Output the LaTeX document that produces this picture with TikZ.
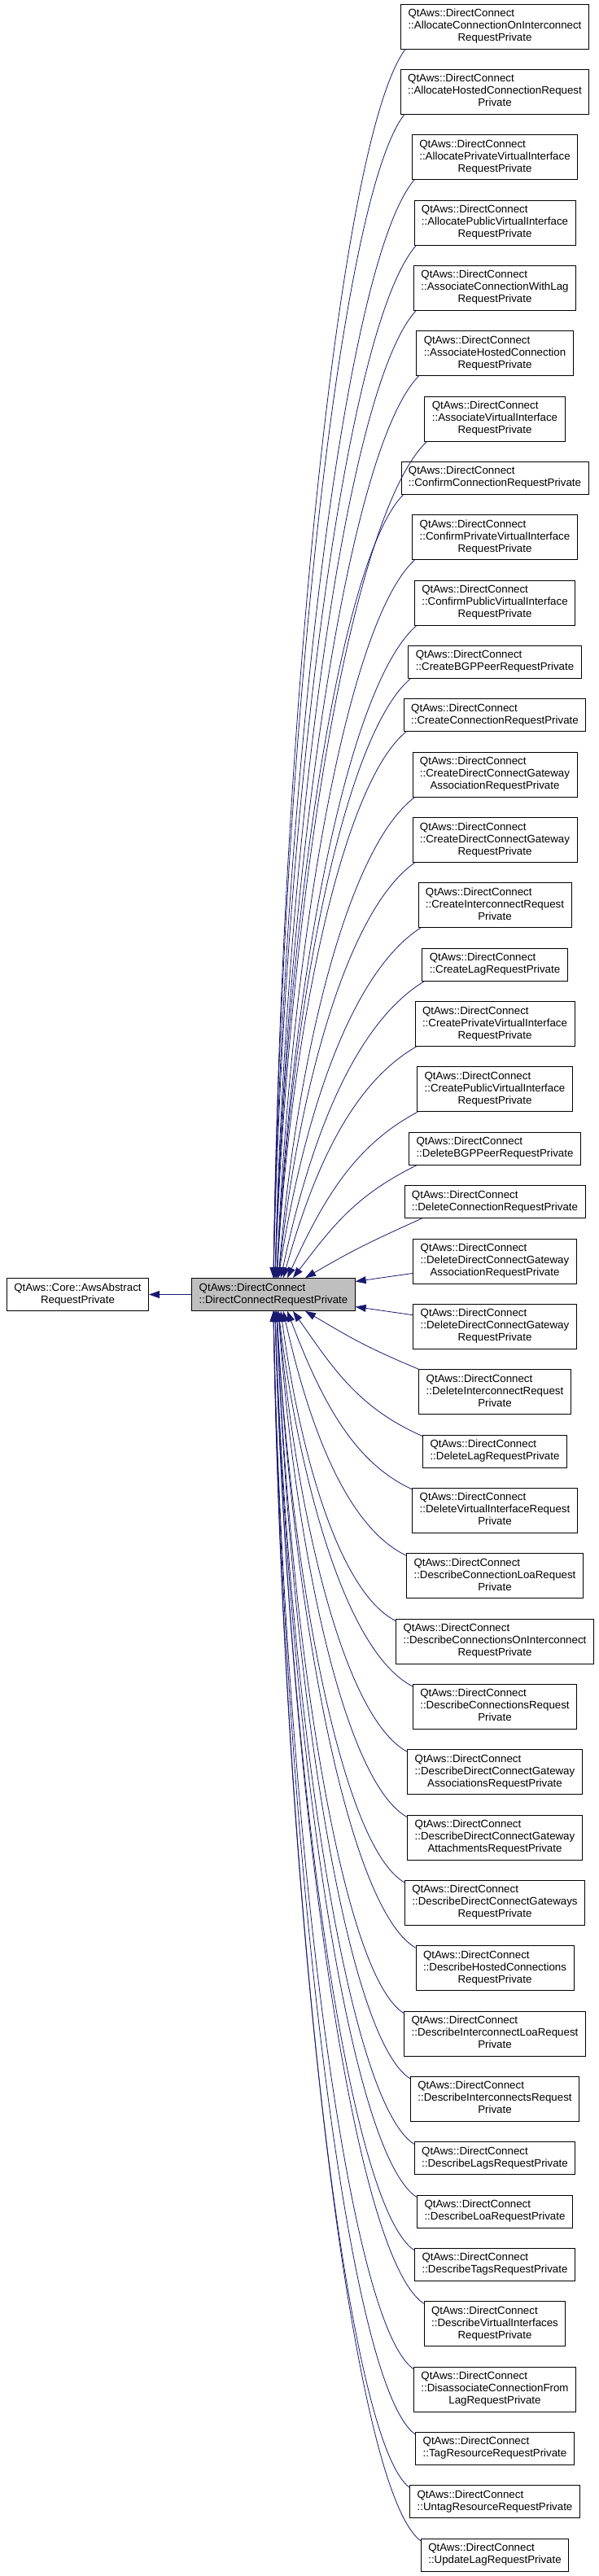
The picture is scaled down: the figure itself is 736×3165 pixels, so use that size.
\documentclass[tikz,border=0pt]{standalone}
\usepackage{fontspec}
\setmainfont{Liberation Sans}
\usetikzlibrary{arrows.meta,calc}
\definecolor{edgecol}{HTML}{191970}
\definecolor{pfill}{HTML}{BFBFBF}
\newcommand\labiii[3]{\begin{tabular}{@{}l@{}}#1\\#2\\\multicolumn{1}{@{}c@{}}{#3}\end{tabular}}
\newcommand\labii[2]{\begin{tabular}{@{}l@{}}#1\\\multicolumn{1}{@{}c@{}}{#2}\end{tabular}}
\newcommand\upedge[3]{\draw[inh] let \p1=([xshift=#2pt]#1.south west), \p2=([xshift=#3pt]p.north) in (\p1) .. controls ({\x1-0.5*(\x1-\x2)},{\y1-0.2*(\x1-\x2)-0.05*(\y1-\y2)}) and ({\x2+0.6*(\x1-\x2)/((\x1-\x2)+(\y1-\y2))*(\x1-\x2)},{\y2+0.45*(\y1-\y2)}) .. (\p2);}
\newcommand\downedge[3]{\draw[inh] let \p1=([yshift=-#2pt]#1.north west), \p2=([xshift=#3pt]p.south) in (\p1) .. controls ({\x1-0.5*(\x1-\x2)},{\y1+0.2*(\x1-\x2)+0.02*(\y2-\y1)}) and ({\x2+0.6*(\x1-\x2)/((\x1-\x2)+(\y2-\y1))*(\x1-\x2)},{\y2-0.45*(\y2-\y1)}) .. (\p2);}
\begin{document}
\begin{tikzpicture}[x=1pt,y=-1pt,
  cls/.style={draw=black, line width=0.8pt, fill=white, inner xsep=9pt, inner ysep=5pt, font=\fontsize{13.3}{15}\selectfont},
  inh/.style={draw=edgecol, line width=0.8pt, -{Triangle[length=13pt,width=9pt]}}]
\useasboundingbox (0,0) rectangle (736,3165);
\def\Q{QtAws::DirectConnect}
\node[cls] (b) at (95.5,1590.5) {\labii{QtAws::Core::AwsAbstract}{RequestPrivate}};
\node[cls,fill=pfill] (p) at (336,1590.5) {\labii{\Q}{::DirectConnectRequestPrivate}};
\node[cls] (c1) at (608,32.5) {\labiii{\Q}{::AllocateConnectionOnInterconnect}{RequestPrivate}};
\node[cls] (c2) at (608,112.8) {\labiii{\Q}{::AllocateHostedConnectionRequest}{Private}};
\node[cls] (c3) at (608,193.2) {\labiii{\Q}{::AllocatePrivateVirtualInterface}{RequestPrivate}};
\node[cls] (c4) at (608,273.5) {\labiii{\Q}{::AllocatePublicVirtualInterface}{RequestPrivate}};
\node[cls] (c5) at (608,353.9) {\labiii{\Q}{::AssociateConnectionWithLag}{RequestPrivate}};
\node[cls] (c6) at (608,434.2) {\labiii{\Q}{::AssociateHostedConnection}{RequestPrivate}};
\node[cls] (c7) at (608,514.6) {\labiii{\Q}{::AssociateVirtualInterface}{RequestPrivate}};
\node[cls] (c8) at (608,587.4) {\labii{\Q}{::ConfirmConnectionRequestPrivate}};
\node[cls] (c9) at (608,660.3) {\labiii{\Q}{::ConfirmPrivateVirtualInterface}{RequestPrivate}};
\node[cls] (c10) at (608,740.6) {\labiii{\Q}{::ConfirmPublicVirtualInterface}{RequestPrivate}};
\node[cls] (c11) at (608,813.4) {\labii{\Q}{::CreateBGPPeerRequestPrivate}};
\node[cls] (c12) at (608,878.8) {\labii{\Q}{::CreateConnectionRequestPrivate}};
\node[cls] (c13) at (608,951.6) {\labiii{\Q}{::CreateDirectConnectGateway}{AssociationRequestPrivate}};
\node[cls] (c14) at (608,1032.0) {\labiii{\Q}{::CreateDirectConnectGateway}{RequestPrivate}};
\node[cls] (c15) at (608,1112.3) {\labiii{\Q}{::CreateInterconnectRequest}{Private}};
\node[cls] (c16) at (608,1185.2) {\labii{\Q}{::CreateLagRequestPrivate}};
\node[cls] (c17) at (608,1258.0) {\labiii{\Q}{::CreatePrivateVirtualInterface}{RequestPrivate}};
\node[cls] (c18) at (608,1338.3) {\labiii{\Q}{::CreatePublicVirtualInterface}{RequestPrivate}};
\node[cls] (c19) at (608,1411.2) {\labii{\Q}{::DeleteBGPPeerRequestPrivate}};
\node[cls] (c20) at (608,1476.5) {\labii{\Q}{::DeleteConnectionRequestPrivate}};
\node[cls] (c21) at (608,1549.4) {\labiii{\Q}{::DeleteDirectConnectGateway}{AssociationRequestPrivate}};
\node[cls] (c22) at (608,1629.7) {\labiii{\Q}{::DeleteDirectConnectGateway}{RequestPrivate}};
\node[cls] (c23) at (608,1710.1) {\labiii{\Q}{::DeleteInterconnectRequest}{Private}};
\node[cls] (c24) at (608,1782.9) {\labii{\Q}{::DeleteLagRequestPrivate}};
\node[cls] (c25) at (608,1855.7) {\labiii{\Q}{::DeleteVirtualInterfaceRequest}{Private}};
\node[cls] (c26) at (608,1936.1) {\labiii{\Q}{::DescribeConnectionLoaRequest}{Private}};
\node[cls] (c27) at (608,2016.4) {\labiii{\Q}{::DescribeConnectionsOnInterconnect}{RequestPrivate}};
\node[cls] (c28) at (608,2096.8) {\labiii{\Q}{::DescribeConnectionsRequest}{Private}};
\node[cls] (c29) at (608,2177.1) {\labiii{\Q}{::DescribeDirectConnectGateway}{AssociationsRequestPrivate}};
\node[cls] (c30) at (608,2257.5) {\labiii{\Q}{::DescribeDirectConnectGateway}{AttachmentsRequestPrivate}};
\node[cls] (c31) at (608,2337.8) {\labiii{\Q}{::DescribeDirectConnectGateways}{RequestPrivate}};
\node[cls] (c32) at (608,2418.1) {\labiii{\Q}{::DescribeHostedConnections}{RequestPrivate}};
\node[cls] (c33) at (608,2498.5) {\labiii{\Q}{::DescribeInterconnectLoaRequest}{Private}};
\node[cls] (c34) at (608,2578.8) {\labiii{\Q}{::DescribeInterconnectsRequest}{Private}};
\node[cls] (c35) at (608,2651.7) {\labii{\Q}{::DescribeLagsRequestPrivate}};
\node[cls] (c36) at (608,2717.0) {\labii{\Q}{::DescribeLoaRequestPrivate}};
\node[cls] (c37) at (608,2782.3) {\labii{\Q}{::DescribeTagsRequestPrivate}};
\node[cls] (c38) at (608,2855.2) {\labiii{\Q}{::DescribeVirtualInterfaces}{RequestPrivate}};
\node[cls] (c39) at (608,2935.5) {\labiii{\Q}{::DisassociateConnectionFrom}{LagRequestPrivate}};
\node[cls] (c40) at (608,3008.4) {\labii{\Q}{::TagResourceRequestPrivate}};
\node[cls] (c41) at (608,3073.7) {\labii{\Q}{::UntagResourceRequestPrivate}};
\node[cls] (c42) at (608,3139.1) {\labii{\Q}{::UpdateLagRequestPrivate}};
% inheritance edges
\draw[inh] (p.west) -- (b.east);
\upedge{c1}{6}{0}
\upedge{c2}{5}{0}
\upedge{c3}{3}{0}
\upedge{c4}{3}{0}
\upedge{c5}{3}{2}
\upedge{c6}{3}{2}
\upedge{c7}{3}{2}
\upedge{c8}{3}{2}
\upedge{c9}{3}{4}
\upedge{c10}{3}{4}
\upedge{c11}{3}{4}
\upedge{c12}{3}{4}
\upedge{c13}{3}{6}
\upedge{c14}{3}{6}
\upedge{c15}{3}{6}
\upedge{c16}{3}{9}
\upedge{c17}{2}{12}
\upedge{c18}{1}{17}
\upedge{c19}{10}{24}
\upedge{c20}{22}{39}
\draw[inh] ([yshift=-15pt]c21.west) -- ([yshift=16pt]p.east);
\draw[inh] ([yshift=14pt]c22.west) -- ([yshift=-15pt]p.east);
\downedge{c23}{0}{39}
\downedge{c24}{2}{24}
\downedge{c25}{2}{17}
\downedge{c26}{3}{12}
\downedge{c27}{3}{9}
\downedge{c28}{3}{6}
\downedge{c29}{3}{6}
\downedge{c30}{3}{6}
\downedge{c31}{3}{4}
\downedge{c32}{3}{4}
\downedge{c33}{3}{4}
\downedge{c34}{3}{4}
\downedge{c35}{3}{2}
\downedge{c36}{3}{2}
\downedge{c37}{3}{2}
\downedge{c38}{3}{2}
\downedge{c39}{3}{0}
\downedge{c40}{3}{0}
\downedge{c41}{3}{0}
\downedge{c42}{3}{0}
\end{tikzpicture}
\end{document}
